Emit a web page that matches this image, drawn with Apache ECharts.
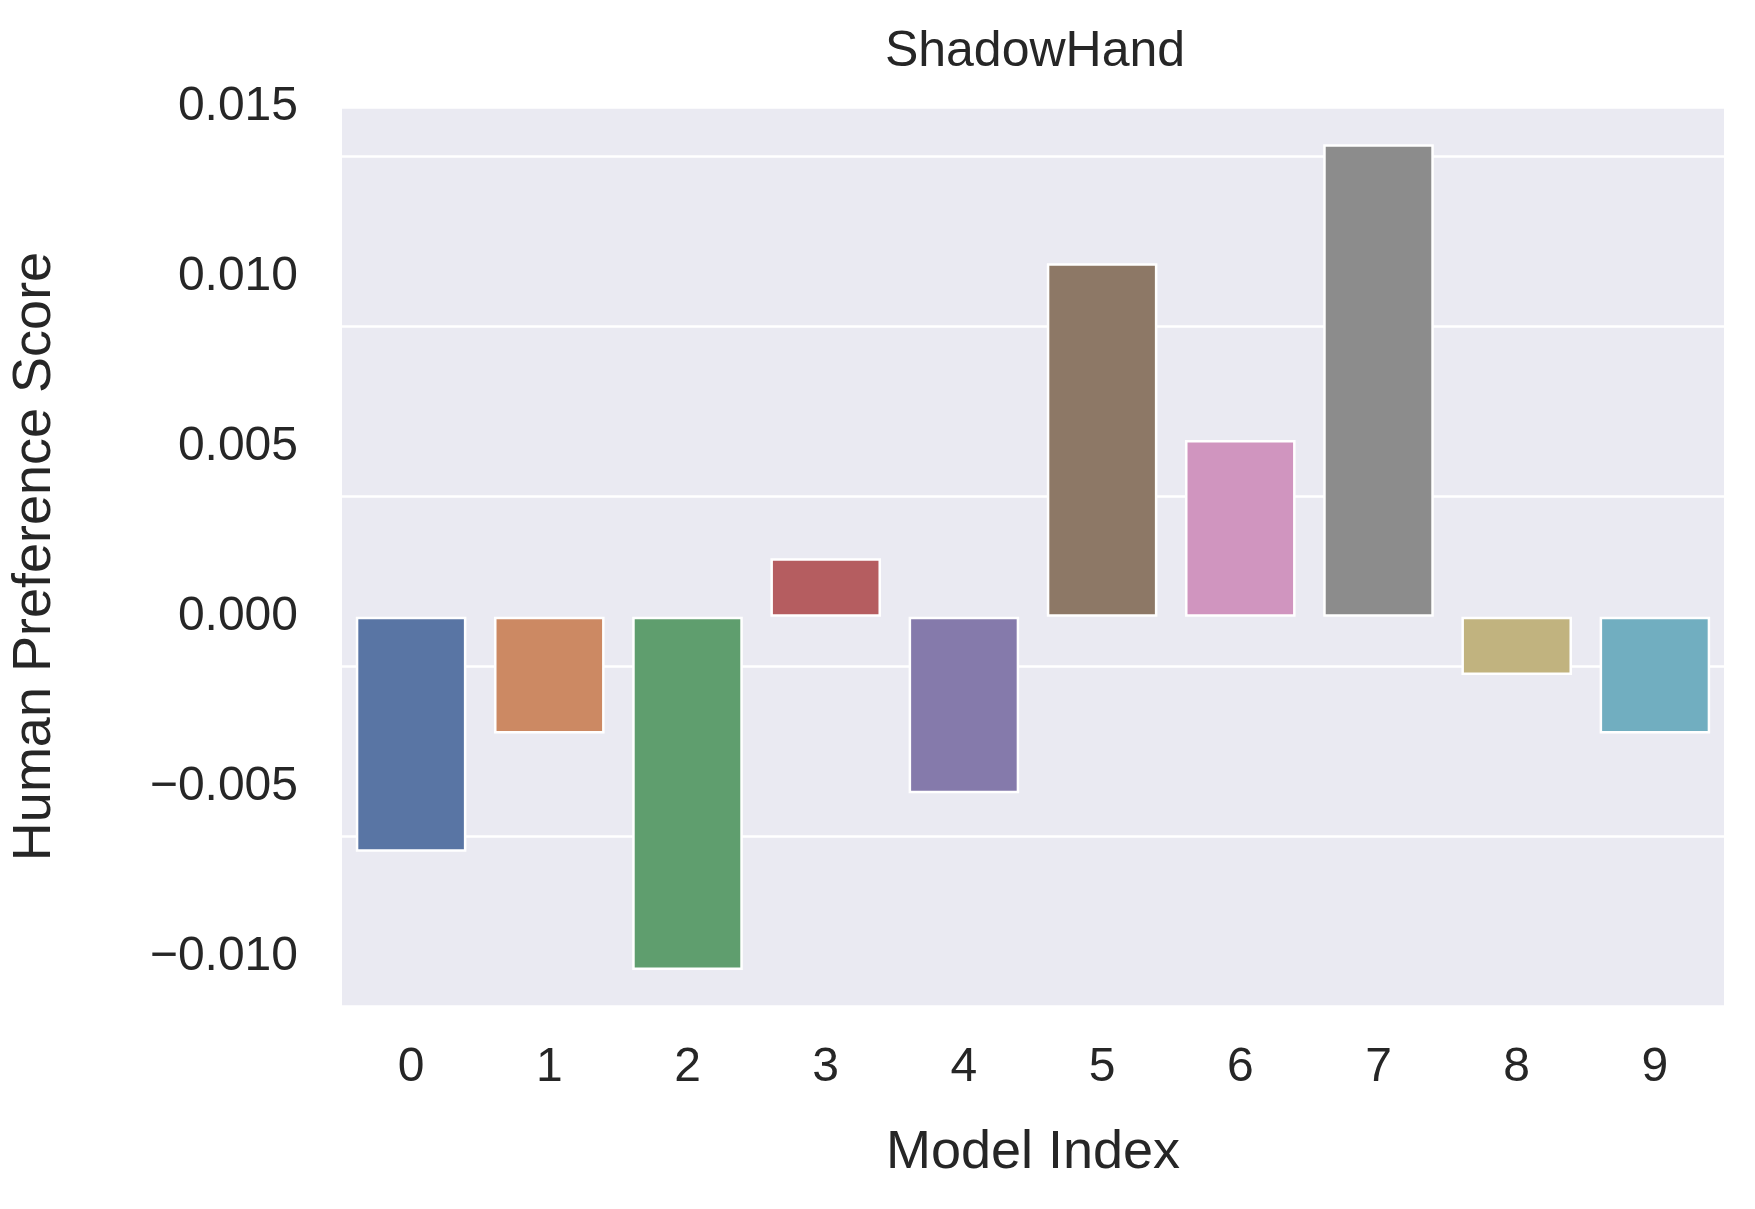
<!DOCTYPE html><html><head><meta charset="utf-8"><script src="https://cdn.jsdelivr.net/npm/echarts@6/dist/echarts.min.js"></script>
<style>html,body{margin:0;background:#fff}#c{width:1755px;height:1209px}</style></head><body><div id="c"></div><script>
const categories=['0','1','2','3','4','5','6','7','8','9'];
const values=[-0.00692,-0.00344,-0.0104,0.00172,-0.0052,0.0104,0.0052,0.0139,-0.00172,-0.00344];
const colors=['#5975a4','#cc8963','#5f9e6e','#b55d60','#857aab','#8d7866','#d095bf','#8c8c8c','#c1b37f','#71aec0'];
const yTicks=[-0.010,-0.005,0,0.005,0.010,0.015];
const F='Liberation Sans, Arial, sans-serif';
const chart=echarts.init(document.getElementById('c'));
chart.setOption({
 animation:false,
 title:{text:'ShadowHand',left:1030,top:22,textAlign:'center',textStyle:{fontFamily:F,fontSize:50,fontWeight:'normal',color:'#262626'}},
 grid:{left:335,right:31,top:107,bottom:203,backgroundColor:'#eaeaf2',show:true,borderWidth:0},
 xAxis:{type:'category',data:categories,name:'Model Index',nameLocation:'middle',nameGap:120,
  nameTextStyle:{fontFamily:F,fontSize:54,color:'#262626'},
  axisLine:{show:false},axisTick:{show:false},
  axisLabel:{fontFamily:F,fontSize:48,color:'#262626',margin:38},splitLine:{show:false}},
 yAxis:{type:'value',min:-0.01146,max:0.015,interval:0.005,name:'Human Preference Score',nameLocation:'middle',nameGap:280,
  nameTextStyle:{fontFamily:F,fontSize:54,color:'#262626'},
  axisLine:{show:false},axisTick:{show:false},
  axisLabel:{fontFamily:F,fontSize:48,color:'#262626',margin:44,customValues:yTicks,
   formatter:v=>{const s=Math.abs(v).toFixed(3);return (v< -1e-9?'\u2212':'')+s;}},
  splitLine:{lineStyle:{color:'#fff',width:2.5}}},
 series:[{type:'bar',barWidth:'80%',
  data:values.map((v,i)=>({value:v,itemStyle:{color:colors[i]}})),
  itemStyle:{borderColor:'#fff',borderWidth:2.5}}]
});
</script></body></html>
